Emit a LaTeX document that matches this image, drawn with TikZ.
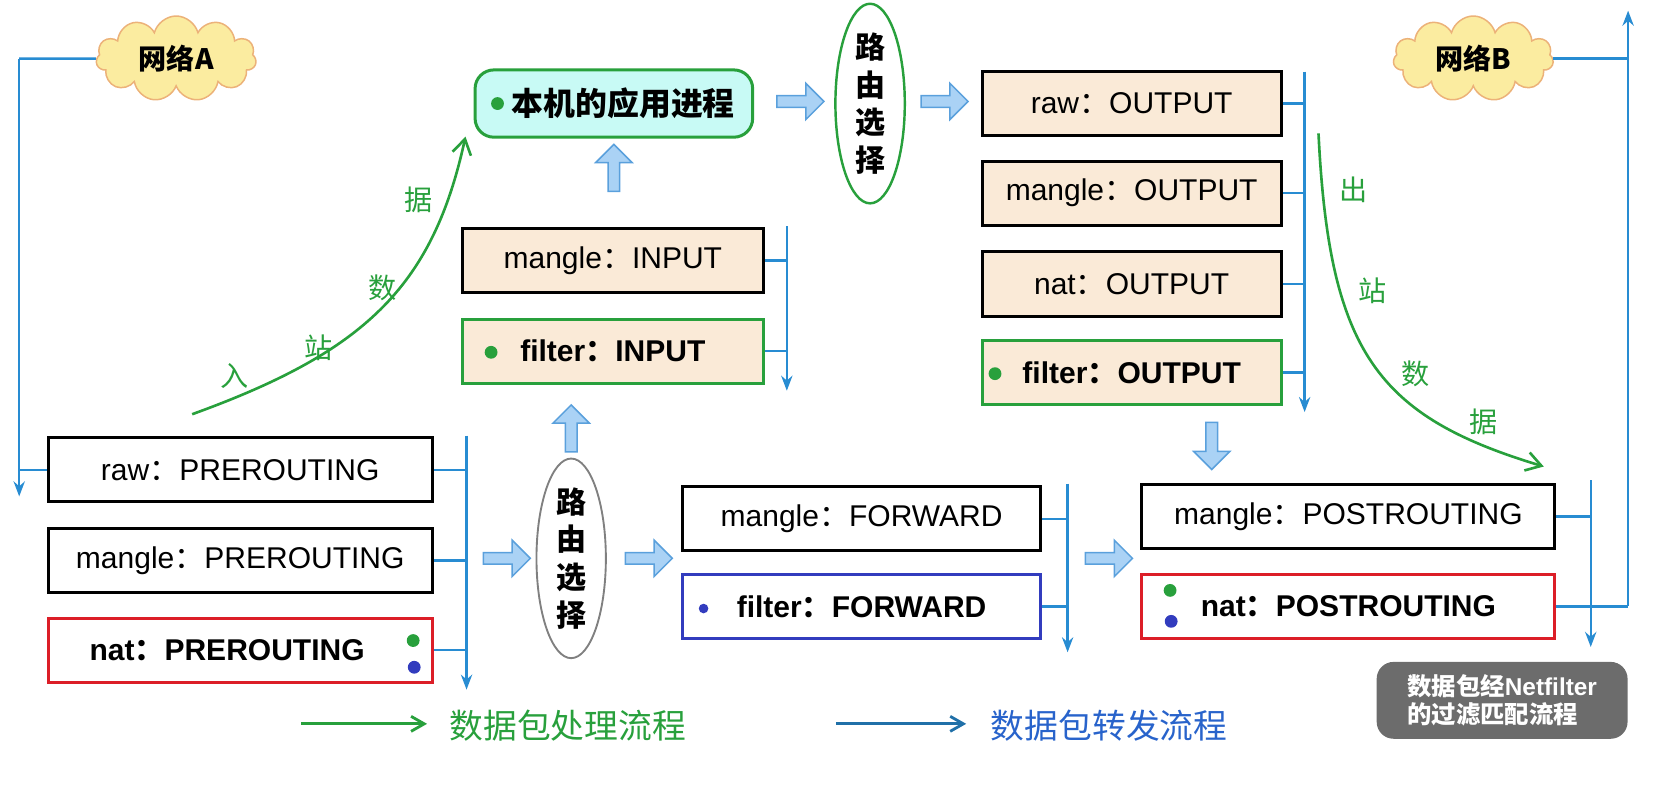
\documentclass[tikz,border=0pt]{standalone}
\usepackage{fontspec}
\setmainfont{Liberation Sans}
\newfontfamily\cjk{Noto Sans CJK SC}
\usetikzlibrary{shapes.symbols,shapes.arrows,shapes.geometric,arrows.meta}
\newcommand\zh[1]{{\cjk #1}}
\definecolor{beige}{RGB}{250,234,215}
\definecolor{cyanl}{RGB}{200,250,245}
\definecolor{lblue}{RGB}{40,140,210}
\definecolor{gr}{RGB}{40,160,60}
\definecolor{rd}{RGB}{220,30,40}
\definecolor{bl}{RGB}{50,60,190}
\definecolor{arrf}{RGB}{170,210,245}
\definecolor{arrd}{RGB}{90,160,220}
\begin{document}
\begin{tikzpicture}[x=0.02cm,y=-0.02cm,
 box/.style={draw=black,line width=1.6pt,minimum height=60*0.02cm,font=\fontsize{16}{18}\selectfont,inner sep=2pt},
 line/.style={lblue,line width=1.3pt},
 arr/.style={line,-{Stealth[length=8pt,width=6pt]}},
 fat/.style={single arrow,draw=arrd,fill=arrf,line width=0.8pt,minimum height=44*0.02cm,minimum width=34*0.02cm,single arrow head extend=4pt,inner sep=1.5pt},
 cloudn/.style={cloud,cloud puffs=11,aspect=1.8,draw=orange!50!brown!60,fill=yellow!25!beige,line width=0.8pt,minimum width=150*0.02cm,minimum height=80*0.02cm,inner sep=-4pt,font=\cjk\fontsize{15}{17}\selectfont\bfseries},
 gcurve/.style={gr,line width=1.4pt,-{Straight Barb[length=8pt,width=10pt]}},
 glab/.style={gr,font=\cjk\fontsize{15}{17}\selectfont},
 dot/.style={circle,inner sep=0pt,minimum size=12*0.02cm},
]
\useasboundingbox (0,0) rectangle (1568,759);
% clouds
\node[cloudn] (cA) at (165,55) {网络A};
\node[cloudn] (cB) at (1380,55) {网络B};
% PREROUTING
\node[box,minimum width=360*0.02cm] (pr1) at (225,440) {raw\zh{：}PREROUTING};
\node[box,minimum width=360*0.02cm] (pr2) at (225,525) {mangle\zh{：}PREROUTING};
\node[box,draw=rd,minimum width=360*0.02cm,font=\fontsize{16}{18}\selectfont\bfseries] (pr3) at (225,609) {\hspace*{-14pt}nat\zh{：}PREROUTING};
\node[dot,fill=gr] (d1) at (387,600) {};
\node[dot,fill=bl] (d2) at (388,625) {};
% left input line
\coordinate (la) at (18,55);
\coordinate (lb) at (18,465);
\draw[line] (cA.west) -- (la);
\draw[arr] (la) -- (lb);
\draw[line] (pr1.west -| la) -- (pr1.west);
\coordinate (pt) at (437,408);
\coordinate (pb) at (437,646);
\draw[arr] (pt) -- (pb);
\foreach \n in {pr1,pr2,pr3} \draw[line] (\n.east) -- (\n.east -| pt);
% routing ellipses
\node[ellipse,draw=gray,line width=1pt,minimum width=65*0.02cm,minimum height=170*0.02cm,font=\cjk\fontsize{16}{18}\selectfont\bfseries,align=center,inner sep=0pt] (r1) at (535,523) {路\\[2pt]由\\[2pt]选\\[2pt]择};
\node[ellipse,draw=gr,line width=1.3pt,minimum width=65*0.02cm,minimum height=180*0.02cm,font=\cjk\fontsize{16}{18}\selectfont\bfseries,align=center,inner sep=0pt] (r2) at (815,97) {路\\[2pt]由\\[2pt]选\\[2pt]择};
% local process
\node[draw=gr,line width=1.6pt,rounded corners=10pt,fill=cyanl,minimum width=260*0.02cm,minimum height=63*0.02cm,font=\cjk\fontsize{17}{19}\selectfont\bfseries] (app) at (575,97) {\hspace*{10pt}本机的应用进程};
\node[dot,fill=gr] at (466,97) {};
% INPUT
\node[box,fill=beige,minimum width=282*0.02cm] (in1) at (574,244) {mangle\zh{：}INPUT};
\node[box,fill=beige,draw=gr,minimum width=282*0.02cm,font=\fontsize{16}{18}\selectfont\bfseries] (in2) at (574,329) {filter\zh{：}INPUT};
\node[dot,fill=gr] at (460,330) {};
\coordinate (it) at (737,212);
\coordinate (ib) at (737,366);
\draw[arr] (it) -- (ib);
\foreach \n in {in1,in2} \draw[line] (\n.east) -- (\n.east -| it);
% OUTPUT
\node[box,fill=beige,minimum width=280*0.02cm] (o1) at (1060,97) {raw\zh{：}OUTPUT};
\node[box,fill=beige,minimum width=280*0.02cm] (o2) at (1060,181) {mangle\zh{：}OUTPUT};
\node[box,fill=beige,minimum width=280*0.02cm] (o3) at (1060,266) {nat\zh{：}OUTPUT};
\node[box,fill=beige,draw=gr,minimum width=280*0.02cm,font=\fontsize{16}{18}\selectfont\bfseries] (o4) at (1060,349) {filter\zh{：}OUTPUT};
\node[dot,fill=gr] at (932,350) {};
\coordinate (ot) at (1222,67);
\coordinate (ob) at (1222,386);
\draw[arr] (ot) -- (ob);
\foreach \n in {o1,o2,o3,o4} \draw[line] (\n.east) -- (\n.east -| ot);
% FORWARD
\node[box,minimum width=335*0.02cm] (f1) at (807,486) {mangle\zh{：}FORWARD};
\node[box,draw=bl,minimum width=335*0.02cm,font=\fontsize{16}{18}\selectfont\bfseries] (f2) at (807,568) {filter\zh{：}FORWARD};
\node[dot,fill=bl,minimum size=9*0.02cm] at (659,570) {};
\coordinate (ft) at (1000,453);
\coordinate (fb) at (1000,611);
\draw[arr] (ft) -- (fb);
\foreach \n in {f1,f2} \draw[line] (\n.east) -- (\n.east -| ft);
% POSTROUTING
\node[box,minimum width=387*0.02cm] (po1) at (1263,484) {mangle\zh{：}POSTROUTING};
\node[box,draw=rd,minimum width=387*0.02cm,font=\fontsize{16}{18}\selectfont\bfseries] (po2) at (1263,568) {nat\zh{：}POSTROUTING};
\node[dot,fill=gr] at (1096,553) {};
\node[dot,fill=bl] at (1097,582) {};
\coordinate (qt) at (1490,450);
\coordinate (qb) at (1490,606);
\draw[arr] (qt) -- (qb);
\foreach \n in {po1,po2} \draw[line] (\n.east) -- (\n.east -| qt);
% right output line
\coordinate (ra) at (1525,568);
\coordinate (rb) at (1525,10);
\draw[line] (po2.east) -- (ra);
\draw[arr] (ra) -- (rb);
\draw[line] (cB.east) -- (cB.east -| ra);
% fat arrows
\node[fat] (a1) at (472,523) {};
\node[fat] (a2) at (605,523) {};
\node[fat,rotate=90] (a3) at (535,404) {};
\node[fat,rotate=90] (a4) at (575,160) {};
\node[fat] (a5) at (747,95) {};
\node[fat] (a6) at (882,95) {};
\node[fat,rotate=-90] (a7) at (1135,415) {};
\node[fat] (a8) at (1036,523) {};
% green curves
\coordinate (gs) at (180,388);
\coordinate (ge) at (436,128);
\draw[gcurve] (gs) .. controls (340,330) and (405,270) .. (ge);
\coordinate (hs) at (1235,125);
\coordinate (he) at (1446,437);
\draw[gcurve] (hs) .. controls (1245,330) and (1290,390) .. (he);
\node[glab] at (220,352) {入};
\node[glab] at (298,326) {站};
\node[glab] at (358,270) {数};
\node[glab] at (392,187) {据};
\node[glab] at (1268,178) {出};
\node[glab] at (1286,272) {站};
\node[glab] at (1326,350) {数};
\node[glab] at (1390,395) {据};
% legend
\coordinate (l1) at (282,678);
\coordinate (l2) at (400,678);
\draw[gr,line width=1.5pt,-{Straight Barb[length=7pt,width=8pt]}] (l1) -- (l2);
\node[gr,font=\cjk\fontsize{18}{20}\selectfont,anchor=west] (t1) at (415,680) {数据包处理流程};
\coordinate (m1) at (783,678);
\coordinate (m2) at (905,678);
\draw[lblue!80!black,line width=1.5pt,-{Straight Barb[length=7pt,width=8pt]}] (m1) -- (m2);
\node[bl!80!cyan,font=\cjk\fontsize{18}{20}\selectfont,anchor=west] (t2) at (922,680) {数据包转发流程};
% gray box
\node[fill=gray!85!black,rounded corners=9pt,minimum width=235*0.02cm,minimum height=72*0.02cm,text=white,font=\cjk\fontsize{13}{15}\selectfont\bfseries,align=left] (gb) at (1407,656) {数据包经{\bfseries\fontspec{Liberation Sans}Netfilter}\\的过滤匹配流程};
\end{tikzpicture}
\end{document}
